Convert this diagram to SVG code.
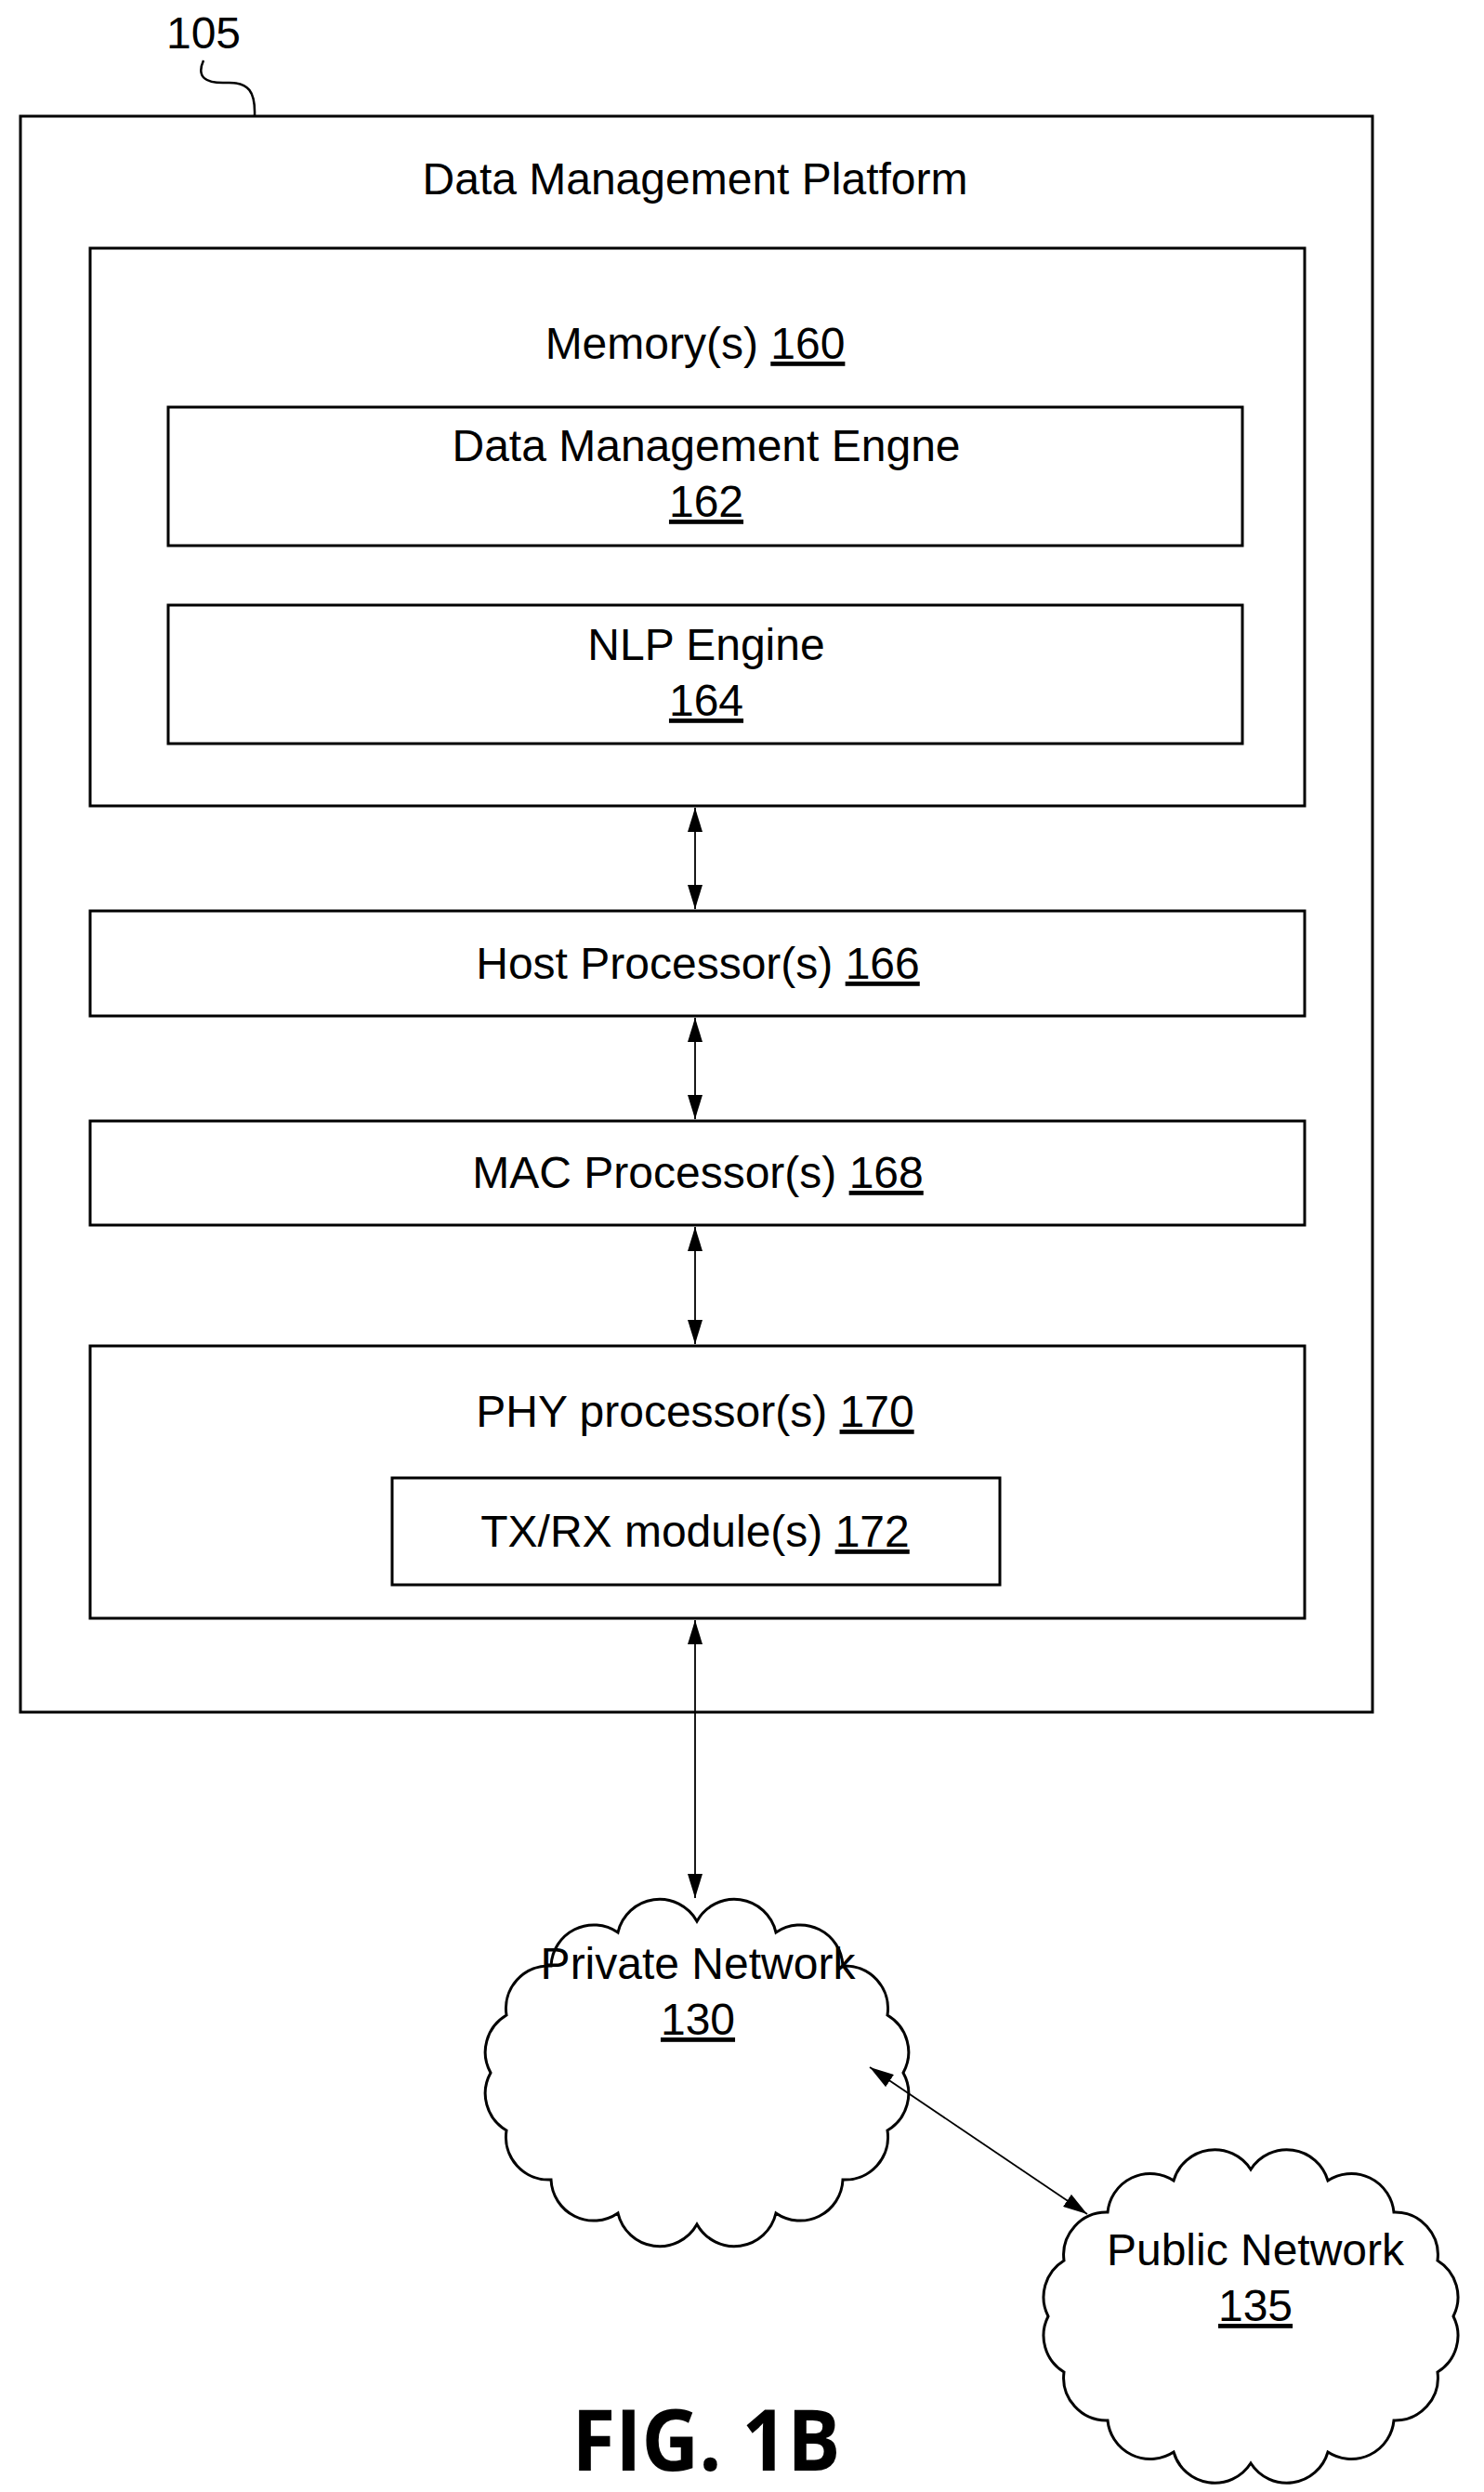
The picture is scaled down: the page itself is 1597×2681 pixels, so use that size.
<svg xmlns="http://www.w3.org/2000/svg" width="1597" height="2681" viewBox="0 0 1597 2681">
<style>
.b{fill:#fff;stroke:#000;stroke-width:3}
.t{font-family:"Liberation Sans",Arial,sans-serif;font-size:48px;fill:#000;text-anchor:middle}
.u{text-decoration:underline}
.c{stroke:#000;stroke-width:1.8;fill:none;marker-start:url(#a);marker-end:url(#a)}
</style>
<defs>
<marker id="a" viewBox="0 0 26 16" refX="26" refY="8" markerWidth="26" markerHeight="16" markerUnits="userSpaceOnUse" orient="auto-start-reverse"><path d="M0 0L26 8L0 16z" fill="#000"/></marker>
</defs>
<rect width="1597" height="2681" fill="#fff"/>
<g id="label105"><text class="t" x="219" y="52">105</text><path d="M219 65c-8 18 2 25 25 24c24-1 31 10 30 36" fill="none" stroke="#000" stroke-width="2.5"/></g>
<g id="platform"><rect class="b" x="22" y="125" width="1455" height="1717"/><text class="t" x="748" y="209">Data Management Platform</text></g>
<g id="memory"><rect class="b" x="97" y="267" width="1307" height="600"/><text class="t" x="748" y="386">Memory(s) <tspan class="u">160</tspan></text></g>
<g id="dme"><rect class="b" x="181" y="438" width="1156" height="149"/><text class="t" x="760" y="496">Data Management Engne</text><text class="t u" x="760" y="556">162</text></g>
<g id="nlp"><rect class="b" x="181" y="651" width="1156" height="149"/><text class="t" x="760" y="710">NLP Engine</text><text class="t u" x="760" y="770">164</text></g>
<g id="host"><rect class="b" x="97" y="980" width="1307" height="113"/><text class="t" x="751" y="1053">Host Processor(s) <tspan class="u">166</tspan></text></g>
<g id="mac"><rect class="b" x="97" y="1206" width="1307" height="112"/><text class="t" x="751" y="1278">MAC Processor(s) <tspan class="u">168</tspan></text></g>
<g id="phy"><rect class="b" x="97" y="1448" width="1307" height="293"/><text class="t" x="748" y="1535">PHY processor(s) <tspan class="u">170</tspan></text></g>
<g id="txrx"><rect class="b" x="422" y="1590" width="654" height="115"/><text class="t" x="748" y="1664">TX/RX module(s) <tspan class="u">172</tspan></text></g>
<g id="private"><path class="b" d="M972 2230A46 46 0 0 1 955 2292A46 46 0 0 1 907 2345A46 46 0 0 1 835 2381A46 46 0 0 1 750 2393A46 46 0 0 1 665 2381A46 46 0 0 1 593 2345A46 46 0 0 1 545 2292A46 46 0 0 1 528 2230A46 46 0 0 1 545 2168A46 46 0 0 1 593 2115A46 46 0 0 1 665 2079A46 46 0 0 1 750 2067A46 46 0 0 1 835 2079A46 46 0 0 1 907 2115A46 46 0 0 1 955 2168A46 46 0 0 1 972 2230z"/><text class="t" x="751" y="2129">Private Network</text><text class="t u" x="751" y="2189">130</text></g>
<g id="public"><path class="b" d="M1564 2492A46 46 0 0 1 1547 2552A46 46 0 0 1 1500 2604A46 46 0 0 1 1429 2638A46 46 0 0 1 1346 2650A46 46 0 0 1 1263 2638A46 46 0 0 1 1192 2604A46 46 0 0 1 1145 2552A46 46 0 0 1 1128 2492A46 46 0 0 1 1145 2432A46 46 0 0 1 1192 2380A46 46 0 0 1 1263 2346A46 46 0 0 1 1346 2334A46 46 0 0 1 1429 2346A46 46 0 0 1 1500 2380A46 46 0 0 1 1547 2432A46 46 0 0 1 1564 2492z"/><text class="t" x="1351" y="2437">Public Network</text><text class="t u" x="1351" y="2497">135</text></g>
<g id="connectors">
<line class="c" x1="748" y1="869" x2="748" y2="978"/>
<line class="c" x1="748" y1="1095" x2="748" y2="1204"/>
<line class="c" x1="748" y1="1320" x2="748" y2="1446"/>
<line class="c" x1="748" y1="1743" x2="748" y2="2042"/>
<line class="c" x1="936" y1="2224" x2="1170" y2="2382"/>
</g>
<text x="760" y="2658" font-family="'Open Sans','Liberation Sans',sans-serif" font-weight="bold" font-size="92" text-anchor="middle" textLength="289" lengthAdjust="spacingAndGlyphs">FIG. 1B</text>
</svg>
